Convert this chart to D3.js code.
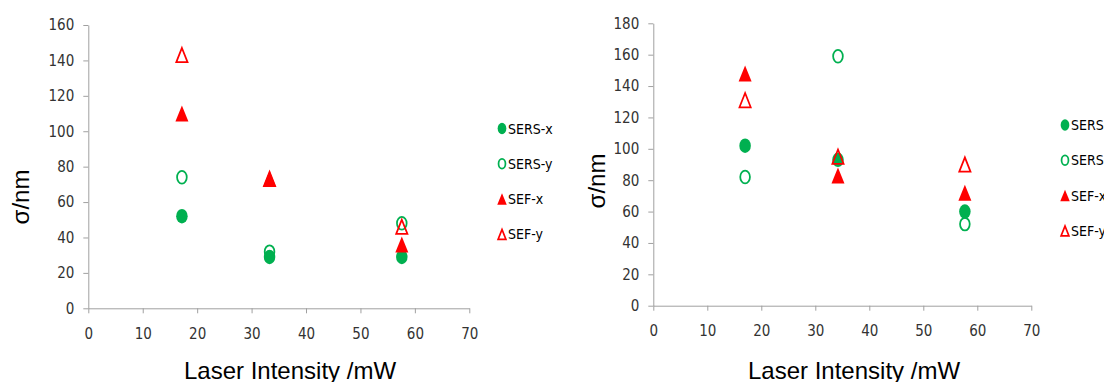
<!DOCTYPE html>
<html>
<head>
<meta charset="utf-8">
<script src="https://cdn.jsdelivr.net/npm/d3@7"></script>
<style>
  html, body { margin: 0; padding: 0; background: #fff; overflow: hidden; }
  .tick text { font-family: "Liberation Sans Narrow", "DejaVu Sans Condensed", sans-serif; font-size: 15px; fill: #333; }
  .title { font-family: "Liberation Sans", Arial, sans-serif; font-size: 24px; fill: #000; }
  .leg { font-family: "Liberation Sans Narrow", "DejaVu Sans Condensed", sans-serif; font-size: 14px; fill: #000; }
</style>
</head>
<body>
<svg width="1104" height="382"></svg>
<script>
// series names, in draw order
var series = ['SERS-x', 'SERS-y', 'SEF-x', 'SEF-y']

// left panel
var left_x = [17.2, 33.3, 57.6]
var left_sers_x = [52, 29, 29]
var left_sers_y = [74, 32, 48]
var left_sef_x = [110, 73, 36]
var left_sef_y = [143, 73, 46]

// right panel
var right_x = [17.0, 34.2, 57.7]
var right_sers_x = [102, 93, 60]
var right_sers_y = [82, 159, 52]
var right_sef_x = [148, 83, 72]
var right_sef_y = [131, 95, 90]

var x_ticks = [0, 10, 20, 30, 40, 50, 60, 70]
var left_y_ticks = [0, 20, 40, 60, 80, 100, 120, 140, 160]
var right_y_ticks = [0, 20, 40, 60, 80, 100, 120, 140, 160, 180]

var green = '#00b050', red = '#ff0000'
var styles = {
	'SERS-x': {shape: 'circle', fill: green, stroke: 'none'},
	'SERS-y': {shape: 'circle', fill: 'none', stroke: green},
	'SEF-x': {shape: 'triangle', fill: red, stroke: 'none'},
	'SEF-y': {shape: 'triangle', fill: 'none', stroke: red}
}

var svg = d3.select('svg')

function marker(g, st, cx, cy, w, h) {
	var m
	if (st.shape === 'circle') {
		m = g.append('ellipse').attr('cx', cx).attr('cy', cy)
			.attr('rx', w / 2).attr('ry', h / 2)
	} else {
		var sw = st.stroke === 'none' ? 0 : 1.75
		m = g.append('path').attr('d',
			'M' + cx + ',' + (cy - h / 2 + sw / 2) +
			'L' + (cx + w / 2 - sw / 2) + ',' + (cy + h / 2 - sw / 2) +
			'L' + (cx - w / 2 + sw / 2) + ',' + (cy + h / 2 - sw / 2) + 'Z')
	}
	m.attr('fill', st.fill).attr('stroke', st.stroke).attr('stroke-width', 1.75)
	if (st.shape === 'circle' && st.stroke !== 'none') m.attr('rx', w / 2 - 0.9).attr('ry', h / 2 - 0.9)
}

function draw_panel(p) {
	var x = d3.scaleLinear().domain([0, 70]).range(p.xr)
	var y = d3.scaleLinear().domain([0, d3.max(p.yTicks)]).range(p.yr)
	var g = svg.append('g')

	g.append('g').attr('transform', 'translate(' + p.xr[0] + ',0)')
		.call(d3.axisLeft(y).tickValues(p.yTicks).tickSize(5).tickSizeOuter(0).tickPadding(9))
	g.append('g').attr('transform', 'translate(0,' + p.yr[0] + ')')
		.call(d3.axisBottom(x).tickValues(x_ticks).tickSize(5).tickSizeOuter(0).tickPadding(15))
	g.selectAll('.domain, .tick line').attr('stroke', '#a0a0a0')

	g.append('text').attr('class', 'title')
		.attr('transform', 'translate(' + p.yLabel[0] + ',' + p.yLabel[1] + ') rotate(-90)')
		.attr('text-anchor', 'middle').text('σ/nm')
	g.append('text').attr('class', 'title')
		.attr('x', p.xLabel[0]).attr('y', p.xLabel[1])
		.attr('text-anchor', 'middle').text('Laser Intensity /mW')

	series.forEach(function(name, si) {
		var vals = p.data[si]
		var st = styles[name]
		p.xs.forEach(function(xv, i) {
			if (vals[i] == null) return
			if (st.shape === 'circle') marker(g, st, x(xv), y(vals[i]), 11.5, 14.5)
			else marker(g, st, x(xv), y(vals[i]), 13, 16)
		})
		// legend
		var ly = p.leg[1] + si * 35.3
		if (st.shape === 'circle') marker(g, st, p.leg[0], ly, 8.7, 11.5)
		else marker(g, st, p.leg[0], ly, 9.5, 11.5)
		g.append('text').attr('class', 'leg').attr('x', p.leg[0] + 6).attr('y', ly + 5).text(name)
	})
}

draw_panel({
	xr: [88.3, 469.3], yr: [308.3, 25], yTicks: left_y_ticks,
	xs: left_x, data: [left_sers_x, left_sers_y, left_sef_x, left_sef_y],
	yLabel: [29, 197], xLabel: [290, 379], leg: [502, 128.5]
})
draw_panel({
	xr: [653.3, 1031.3], yr: [305.7, 23.3], yTicks: right_y_ticks,
	xs: right_x, data: [right_sers_x, right_sers_y, right_sef_x, right_sef_y],
	yLabel: [605, 181], xLabel: [854, 379], leg: [1065, 125]
})
</script>
</body>
</html>
